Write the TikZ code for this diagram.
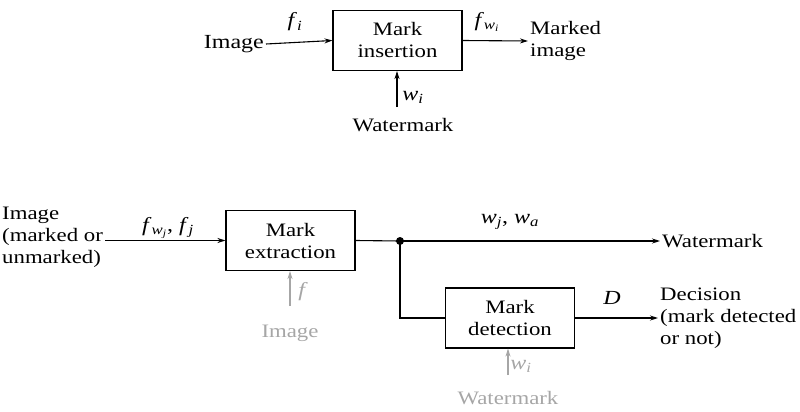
\documentclass[tikz,border=0pt]{standalone}
\usepackage{fontspec}
\setmainfont[FakeStretch=1.2]{Liberation Serif}
\usetikzlibrary{arrows.meta}
\newcommand{\vi}[1]{\textit{#1}}
\newcommand{\sbs}[1]{\textsubscript{\textit{#1}}}
\begin{document}
\begin{tikzpicture}[x=1pt,y=-1pt,
  font=\fontsize{19}{22}\selectfont,
  blk/.style={draw,line width=1.1pt,minimum width=129pt,minimum height=60pt,align=center,inner sep=0pt},
  txt/.style={align=left,inner sep=2pt},
  lbl/.style={inner sep=0pt,font=\fontsize{20}{22}\selectfont},
  conn/.style={line width=1.1pt},
  arr/.style={conn,-{Stealth[length=8pt,width=5pt]}},
  faint/.style={black!35}]
\useasboundingbox (0,0) rectangle (800,412);
% top
\node[blk] (ins) at (397.5,40.5) {Mark\\insertion};
\node[txt,anchor=east,font=\fontsize{20}{22}\selectfont] (img1) at (266,44) {Image};
\node[txt,anchor=west] (marked) at (528,41) {Marked\\image};
\node[txt] (wm1) at (403,125) {Watermark};
\coordinate (wm1top) at (397,107);
\draw[arr] (img1.east) -- (ins.west);
\draw[arr] (ins.east) -- (marked.west);
\draw[arr] (wm1top) -- (ins.south -| wm1top);
\node[lbl] (fi) at (295,22) {\vi{f}\sbs{i}};
\node[lbl] (fwi) at (487,22) {\vi{f}\textsubscript{\vi{w}\textsubscript{\vi{i}}}};
\node[lbl] (wi) at (413,97) {\vi{w}\sbs{i}};
% bottom
\node[blk] (ext) at (290.5,240.5) {Mark\\extraction};
\node[txt,anchor=west] (img2) at (0,237) {Image\\(marked or\\unmarked)};
\coordinate (dot) at (400,241);
\node[txt,anchor=west] (wm2) at (660,241) {Watermark};
\node[blk] (det) at (510,318) {Mark\\detection};
\node[txt,anchor=west] (dec) at (658,318) {Decision\\(mark detected\\or not)};
\draw[arr] (img2.east |- ext.west) -- (ext.west);
\draw[conn] (ext.east) -- (dot);
\draw[arr] (dot) -- (wm2.west);
\draw[conn] (dot) |- (det.west);
\draw[arr] (det.east) -- (dec.west);
\fill (dot) circle (4pt);
\node[lbl] (fwj) at (168,228) {\vi{f}\textsubscript{\vi{w}\textsubscript{\vi{j}}}, \vi{f}\sbs{j}};
\node[lbl] (wj) at (510,222) {\vi{w}\sbs{j}, \vi{w}\sbs{a}};
\node[lbl] (dlab) at (612,298) {\vi{D}};
% faint inputs
\node[txt,faint] (img3) at (290,333) {Image};
\coordinate (img3top) at (290,306);
\draw[arr,faint] (img3top) -- (ext.south -| img3top);
\node[lbl,faint] (fl) at (303,292) {\vi{f}};
\node[txt,faint] (wm3) at (508,398) {Watermark};
\coordinate (wm3top) at (508,375);
\draw[arr,faint] (wm3top) -- (det.south -| wm3top);
\node[lbl,faint] (wl) at (521,366) {\vi{w}\sbs{i}};
\end{tikzpicture}
\end{document}
